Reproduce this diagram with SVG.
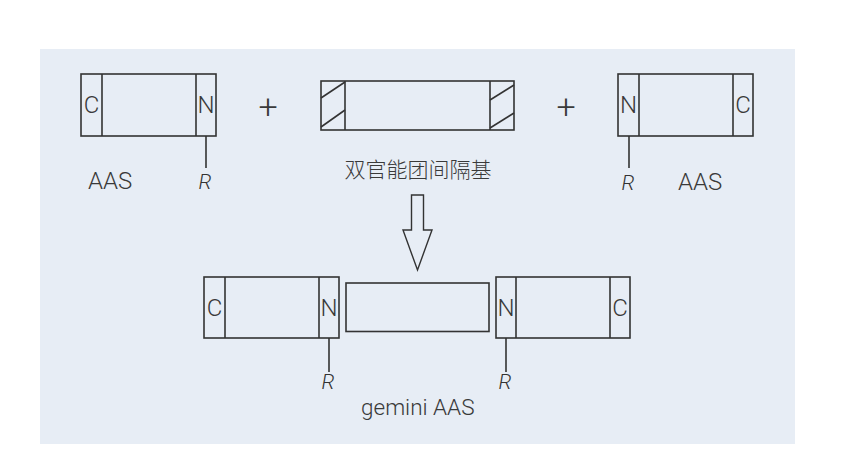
<svg xmlns="http://www.w3.org/2000/svg" width="856" height="450" viewBox="0 0 856 450">
<style>
.box{fill:none;stroke:#333;stroke-width:1.6}
.ln{stroke:#333;stroke-width:1.6;fill:none}
.t{font-family:Roboto,"Liberation Sans",sans-serif;font-weight:300;fill:#3a3a3a;font-size:24px}
.g{font-family:Roboto,"Liberation Sans",sans-serif;font-weight:300;fill:#3a3a3a;font-size:22.5px}
.r{font-family:Roboto,"Liberation Sans",sans-serif;font-weight:300;font-style:italic;fill:#333;font-size:21px;text-anchor:middle}
.lbl{font-family:Roboto,"Liberation Sans",sans-serif;font-weight:300;fill:#3a3a3a;font-size:24px;text-anchor:middle}
.pl{font-family:Roboto,"Liberation Sans",sans-serif;font-weight:300;fill:#3a3a3a;font-size:34px;text-anchor:middle}
.cn{font-family:"Noto Sans CJK SC",sans-serif;font-weight:300;fill:#3a3a3a;font-size:21px;text-anchor:middle}
</style>
<rect x="0" y="0" width="856" height="450" fill="#ffffff"/>
<rect x="40" y="49" width="755" height="395" fill="#e7edf5"/>

<g id="aas-left">
<rect class="box" x="81" y="74" width="135" height="62"/>
<line class="ln" x1="102" y1="74" x2="102" y2="136"/>
<line class="ln" x1="196" y1="74" x2="196" y2="136"/>
<text class="lbl" x="91.5" y="112.5">C</text>
<text class="lbl" x="206" y="112.5">N</text>
<line class="ln" x1="206" y1="136" x2="206" y2="168"/>
<text class="r" x="205" y="189">R</text>
<text class="t" x="88" y="189">AAS</text>
</g>

<g id="plus-1"><text class="pl" x="268" y="118">+</text></g>

<g id="spacer">
<rect class="box" x="321" y="81" width="193" height="49"/>
<line class="ln" x1="345" y1="81" x2="345" y2="130"/>
<line class="ln" x1="490" y1="81" x2="490" y2="130"/>
<line class="ln" x1="321" y1="98" x2="345" y2="82"/>
<line class="ln" x1="321" y1="127" x2="345" y2="110"/>
<line class="ln" x1="490" y1="100" x2="514" y2="85"/>
<line class="ln" x1="490" y1="128" x2="514" y2="113"/>
<text class="cn" x="418" y="177">双官能团间隔基</text>
</g>

<g id="plus-2"><text class="pl" x="566" y="118">+</text></g>

<g id="aas-right">
<rect class="box" x="618" y="74" width="135" height="62"/>
<line class="ln" x1="639" y1="74" x2="639" y2="136"/>
<line class="ln" x1="733" y1="74" x2="733" y2="136"/>
<text class="lbl" x="628.5" y="112.5">N</text>
<text class="lbl" x="743" y="112.5">C</text>
<line class="ln" x1="629" y1="136" x2="629" y2="168"/>
<text class="r" x="628" y="190">R</text>
<text class="t" x="678" y="190">AAS</text>
</g>

<g id="arrow">
<polygon fill="none" stroke="#333" stroke-width="1.4" points="411.5,195 423.5,195 423.5,230 432,230 417.5,270 403,230 411.5,230"/>
</g>

<g id="gemini-left">
<rect class="box" x="204" y="277" width="135" height="61"/>
<line class="ln" x1="225" y1="277" x2="225" y2="338"/>
<line class="ln" x1="319" y1="277" x2="319" y2="338"/>
<text class="lbl" x="214.5" y="315.5">C</text>
<text class="lbl" x="329" y="315.5">N</text>
<line class="ln" x1="329" y1="338" x2="329" y2="372"/>
<text class="r" x="328" y="389">R</text>
</g>

<g id="gemini-spacer">
<rect class="box" x="346" y="283" width="143" height="48.5"/>
</g>

<g id="gemini-right">
<rect class="box" x="496" y="277" width="134" height="61"/>
<line class="ln" x1="516" y1="277" x2="516" y2="338"/>
<line class="ln" x1="610" y1="277" x2="610" y2="338"/>
<text class="lbl" x="506" y="315.5">N</text>
<text class="lbl" x="620" y="315.5">C</text>
<line class="ln" x1="506" y1="338" x2="506" y2="372"/>
<text class="r" x="505" y="389">R</text>
</g>

<g id="gemini-label"><text class="g" x="361" y="415">gemini AAS</text></g>
</svg>
